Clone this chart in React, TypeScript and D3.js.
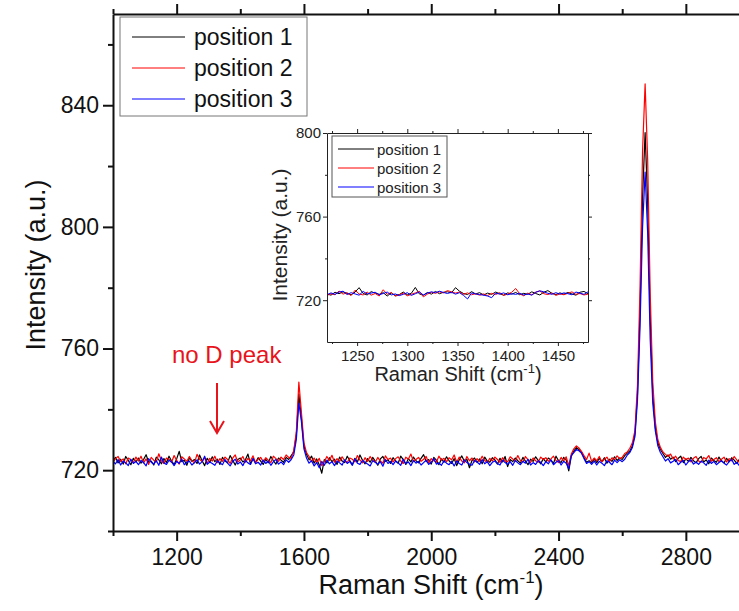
import * as d3 from "d3";
import { useEffect, useRef } from "react";

// Raman shift grid of the main spectrum (cm-1)
const shift = d3.range(1000, 3001, 8);

const position1 = [
  723.1, 724.2, 722.4, 723.6, 722.0, 724.5, 723.2, 721.8, 723.9, 722.7,
  724.0, 722.3, 723.5, 725.1, 722.6, 723.0, 721.7, 724.3, 723.4, 722.1,
  723.8, 722.5, 724.6, 723.0, 721.9, 723.7, 726.2, 722.8, 723.3, 721.6,
  724.1, 722.9, 723.5, 722.2, 725.0, 723.1, 721.5, 723.9, 722.6, 724.4,
  722.8, 723.6, 721.9, 724.2, 723.0, 722.4, 724.8, 723.3, 721.7, 723.5,
  724.0, 722.7, 723.4, 725.3, 722.1, 723.8, 722.5, 724.1, 723.0, 721.9,
  723.6, 722.4, 724.5, 723.1, 722.0, 724.0, 723.3, 722.6, 724.2, 723.5,
  724.8, 726.0, 731.5, 745.0, 737.0, 728.0, 725.2, 723.4, 724.6, 722.3,
  723.7, 721.8, 719.0, 723.5, 722.4, 724.1, 722.8, 723.6, 721.9, 724.3,
  723.0, 722.5, 724.6, 723.2, 721.8, 723.9, 722.7, 725.0, 723.3, 722.1,
  723.8, 722.6, 724.2, 723.0, 721.6, 723.7, 724.5, 722.9, 723.4, 722.2,
  724.1, 723.0, 722.3, 724.6, 723.5, 721.9, 723.8, 722.7, 724.3, 723.1,
  722.4, 723.9, 725.1, 722.8, 723.5, 722.0, 724.2, 723.3, 721.8, 723.7,
  722.6, 724.4, 723.1, 722.2, 723.8, 721.5, 723.4, 724.7, 722.9, 723.6,
  720.8, 723.2, 724.0, 722.5, 723.7, 722.1, 724.3, 723.0, 722.6, 724.1,
  723.4, 722.0, 723.9, 722.7, 724.5, 721.2, 723.5, 722.8, 724.0, 723.1,
  722.3, 724.2, 723.0, 721.8, 723.6, 722.9, 724.4, 723.2, 722.1, 723.8,
  722.7, 724.0, 723.3, 722.2, 724.6, 723.1, 722.5, 724.2, 723.4, 719.8,
  724.6, 726.3, 727.4, 726.8, 726.0, 724.2, 722.6, 723.1, 722.4, 723.7,
  722.5, 723.9, 722.8, 724.1, 722.3, 723.6, 722.9, 724.4, 723.2, 724.0,
  723.5, 724.8, 725.6, 726.3, 728.0, 732.0, 745.0, 772.0, 810.0, 831.0,
  808.0, 770.0, 745.0, 734.0, 729.0, 726.8, 725.5, 724.2, 725.0, 723.6,
  724.3, 722.8, 723.9, 724.6, 722.5, 723.7, 722.9, 724.2, 723.1, 722.4,
  723.8, 724.5, 722.7, 723.4, 722.1, 724.0, 723.2, 722.6, 724.3, 723.0,
  722.4, 723.9, 722.8, 724.1, 723.3, 722.2, 723.6, 724.4, 722.9, 723.5,
  723.2,
];

const position2 = [
  722.6, 723.8, 724.5, 722.9, 723.7, 722.1, 724.0, 723.4, 722.5, 724.3,
  723.0, 724.6, 722.4, 723.7, 721.9, 724.2, 723.3, 722.7, 725.4, 723.1,
  722.2, 724.0, 723.5, 722.6, 724.8, 723.2, 722.0, 724.4, 723.7, 722.9,
  724.5, 723.1, 722.4, 725.2, 723.6, 722.8, 724.1, 722.3, 723.9, 723.0,
  724.6, 722.5, 723.8, 722.9, 724.3, 723.5, 722.2, 724.0, 725.0, 722.7,
  723.4, 724.5, 722.6, 723.9, 723.1, 724.7, 722.4, 723.6, 724.2, 722.8,
  724.1, 723.3, 722.5, 724.6, 723.8, 722.9, 724.3, 723.5, 725.0, 724.2,
  723.9, 726.5, 732.5, 749.0, 739.0, 729.0, 725.8, 724.5, 722.8, 724.0,
  722.4, 723.9, 721.5, 722.8, 724.5, 723.2, 724.9, 722.6, 723.8, 722.9,
  724.4, 723.1, 722.5, 724.0, 723.6, 722.7, 724.8, 723.3, 722.4, 724.1,
  722.9, 724.5, 723.3, 722.6, 724.2, 723.0, 722.3, 724.7, 723.5, 724.0,
  722.7, 723.8, 724.4, 723.0, 722.2, 724.3, 723.6, 725.3, 722.8, 723.5,
  724.2, 722.9, 723.6, 724.5, 722.4, 723.8, 723.1, 722.6, 724.6, 723.3,
  723.9, 722.8, 724.1, 723.4, 725.0, 722.6, 724.3, 723.0, 722.4, 724.5,
  723.1, 724.0, 722.7, 723.8, 722.9, 724.6, 723.2, 722.5, 723.9, 723.0,
  724.3, 723.5, 722.6, 724.1, 723.0, 722.8, 724.4, 723.7, 722.9, 724.8,
  723.2, 722.7, 724.5, 723.4, 722.5, 724.0, 723.1, 722.6, 724.3, 723.5,
  724.1, 722.9, 723.7, 724.6, 723.2, 722.5, 724.2, 723.0, 724.4, 721.5,
  725.3, 727.0, 728.0, 727.3, 726.2, 724.8, 723.5, 725.6, 722.9, 724.0,
  723.1, 724.5, 722.7, 723.6, 724.3, 722.8, 724.1, 723.4, 724.7, 723.8,
  724.2, 725.5, 726.0, 727.2, 729.0, 733.0, 748.0, 780.0, 825.0, 847.0,
  822.0, 778.0, 749.0, 736.0, 730.0, 727.5, 726.0, 725.2, 724.5, 725.3,
  723.7, 724.6, 723.2, 722.8, 724.3, 723.5, 724.0, 722.7, 723.9, 724.5,
  723.0, 722.6, 724.2, 723.7, 724.8, 722.9, 723.5, 724.1, 722.8, 723.6,
  724.3, 722.7, 723.8, 723.1, 724.5, 723.4, 722.6, 724.0, 723.7, 722.9,
  723.8,
];

const position3 = [
  722.8, 722.1, 723.5, 721.7, 723.0, 722.4, 721.5, 723.6, 722.2, 722.9,
  721.8, 723.2, 722.5, 721.4, 723.8, 722.6, 722.0, 723.1, 721.6, 724.3,
  722.4, 721.9, 723.3, 722.7, 721.5, 722.9, 722.2, 723.7, 721.8, 722.6,
  723.0, 721.7, 722.5, 723.4, 722.0, 722.8, 724.6, 721.9, 722.7, 722.2,
  721.6, 723.1, 722.4, 721.8, 723.5, 722.3, 721.4, 722.9, 723.6, 722.0,
  722.7, 721.5, 723.2, 722.4, 721.9, 723.8, 722.1, 722.6, 721.7, 723.3,
  722.2, 723.0, 721.6, 722.8, 723.5, 722.0, 722.7, 721.8, 723.4, 722.6,
  723.5, 725.0, 730.0, 742.0, 736.0, 727.0, 724.0, 722.3, 723.1, 721.4,
  722.5, 720.8, 722.9, 721.6, 723.3, 722.1, 722.8, 721.5, 723.0, 722.4,
  721.7, 723.4, 722.2, 722.9, 721.6, 723.7, 722.3, 721.9, 723.2, 722.5,
  722.0, 721.4, 723.1, 722.6, 721.9, 722.8, 721.3, 723.5, 722.2, 722.9,
  721.8, 723.0, 722.4, 721.6, 723.6, 722.1, 722.7, 721.5, 723.2, 722.3,
  722.9, 721.7, 722.5, 723.3, 721.9, 722.6, 723.8, 722.0, 722.4, 721.6,
  723.1, 722.3, 721.8, 722.9, 721.4, 723.0, 722.2, 721.7, 723.4, 722.5,
  722.0, 721.6, 723.2, 722.7, 721.9, 723.5, 722.1, 722.8, 721.5, 722.6,
  723.0, 722.2, 721.7, 723.3, 722.5, 721.9, 722.8, 721.6, 723.2, 722.4,
  721.8, 722.9, 722.3, 723.6, 721.7, 722.5, 721.9, 723.1, 722.6, 721.5,
  722.8, 722.1, 723.4, 721.8, 722.6, 723.2, 721.7, 722.9, 722.3, 720.5,
  724.8, 725.8, 726.8, 726.4, 725.6, 723.8, 722.2, 722.8, 721.9, 723.0,
  721.7, 722.9, 722.3, 721.5, 723.1, 722.6, 721.8, 723.3, 722.5, 723.4,
  722.8, 723.6, 725.0, 725.8, 727.5, 731.0, 743.0, 767.0, 800.0, 818.0,
  798.0, 763.0, 742.0, 733.0, 728.0, 725.8, 724.4, 723.0, 723.8, 722.4,
  722.9, 723.5, 721.8, 722.6, 723.2, 721.7, 722.8, 723.4, 722.0, 722.7,
  721.9, 723.0, 722.4, 721.6, 723.3, 722.2, 722.9, 721.8, 722.5, 723.1,
  722.3, 721.7, 722.8, 723.5, 721.9, 722.6, 721.5, 723.0, 722.4, 722.1,
  722.6,
];

// inset: zoom on the D band region
const insetShift = d3.range(1220, 1481, 4);

const inset1 = [
  723.0, 722.4, 723.8, 723.1, 724.0, 723.3, 722.6, 723.9, 726.0, 723.2,
  722.5, 724.1, 723.4, 722.8, 723.6, 722.0, 723.5, 722.3, 722.7, 723.9,
  722.6, 723.3, 726.1, 723.0, 722.4, 723.7, 722.9, 724.2, 723.1, 723.8,
  724.0, 723.5, 726.0, 724.3, 723.2, 722.7, 724.1, 723.0, 723.6, 722.5,
  723.4, 722.8, 723.9, 723.1, 722.4, 723.5, 722.9, 723.7, 722.6, 723.3,
  722.8, 724.0, 723.2, 722.5, 723.8, 724.6, 723.3, 722.7, 723.5, 722.9,
  723.7, 723.0, 722.4, 723.8, 724.2, 723.1,
];

const inset2 = [
  722.3, 723.1, 722.6, 724.4, 722.9, 723.6, 722.2, 724.8, 723.0, 722.5,
  723.9, 722.4, 723.2, 722.0, 725.0, 722.8, 723.7, 721.9, 722.6, 723.4,
  722.1, 722.8, 723.5, 724.2, 721.6, 722.9, 723.8, 723.3, 724.0, 723.5,
  724.6, 724.0, 723.4, 723.9, 722.8, 723.5, 722.6, 723.1, 722.4, 723.0,
  722.2, 723.3, 722.7, 723.6, 722.3, 722.9, 723.8, 725.6, 723.0, 722.1,
  723.4, 722.6, 723.9, 724.4, 723.1, 722.7, 723.5, 722.3, 723.0, 722.6,
  723.3, 724.0, 722.8, 723.2, 722.5, 722.9,
];

const inset3 = [
  722.6, 723.5, 722.8, 723.9, 724.3, 722.7, 723.6, 723.0, 722.4, 724.2,
  723.0, 723.4, 723.8, 722.6, 723.2, 723.9, 722.5, 723.0, 722.2, 722.8,
  723.6, 722.3, 723.1, 723.9, 722.5, 723.4, 724.0, 723.6, 724.3, 723.7,
  723.2, 723.8, 722.9, 723.6, 722.3, 720.6, 723.5, 723.0, 722.7, 722.4,
  722.0, 721.2, 723.4, 722.9, 723.5, 722.6, 723.1, 722.8, 723.3, 722.5,
  723.0, 722.4, 723.8, 724.5, 724.0, 723.3, 722.8, 723.6, 722.9, 723.5,
  723.1, 722.6, 723.9, 723.4, 722.8, 724.0,
];

const seriesNames = ["position 1", "position 2", "position 3"];
const colors = ["#000000", "#ff0000", "#0000ff"];

const mainMajorX = [1200, 1600, 2000, 2400, 2800];
const mainMinorX = [1000, 1400, 1800, 2200, 2600, 3000];
const mainMajorY = [720, 760, 800, 840];
const mainMinorY = [700, 740, 780, 820, 860];

const insetMajorX = [1250, 1300, 1350, 1400, 1450];
const insetMinorX = [1225, 1275, 1325, 1375, 1425, 1475];
const insetMajorY = [720, 760, 800];
const insetMinorY = [740, 780];

const font = '"Liberation Sans", Arial, Helvetica, sans-serif';

const App = () => {
  const ref = useRef<SVGSVGElement>(null);

  useEffect(() => {
    const svg = d3.select(ref.current);
    svg.selectAll("*").remove();

    const x = d3.scaleLinear().domain([1000, 3000]).range([113, 749.5]);
    const y = d3.scaleLinear().domain([700, 870]).range([531, 14]);

    const styleAxis = (g: any, size: number, sw: number, color: string) => {
      g.attr("font-size", size).attr("font-family", font);
      g.selectAll(".domain").attr("stroke-width", sw).attr("stroke", color);
      g.selectAll(".tick line").attr("stroke-width", sw).attr("stroke", color);
      g.selectAll(".tick text").attr("fill", color);
    };

    // main spectra
    svg.append("clipPath").attr("id", "mainClip")
      .append("rect").attr("x", 113).attr("y", 14).attr("width", 640).attr("height", 517);

    const line = d3.line<number>()
      .x((_, i) => x(shift[i]))
      .y(d => y(d));

    const mainPlot = svg.append("g").attr("clip-path", "url(#mainClip)");
    [position1, position2, position3].forEach((s, k) => {
      mainPlot.append("path")
        .attr("d", line(s))
        .attr("fill", "none")
        .attr("stroke", colors[k])
        .attr("stroke-width", 1.2)
        .attr("stroke-linejoin", "round");
    });

    // main axes
    const axisColor = "#111";
    svg.append("g").attr("transform", "translate(0,531)")
      .call(d3.axisBottom(x).tickValues(mainMajorX).tickSize(10).tickSizeOuter(0).tickPadding(8).tickFormat(d3.format("d")))
      .call(g => styleAxis(g, 23, 2, axisColor));
    svg.append("g").attr("transform", "translate(0,531)")
      .call(d3.axisBottom(x).tickValues(mainMinorX).tickSize(5).tickFormat(() => ""))
      .call(g => { g.select(".domain").remove(); styleAxis(g, 23, 2, axisColor); });
    svg.append("g").attr("transform", "translate(0,14)")
      .call(d3.axisTop(x).tickValues(mainMajorX).tickSize(10).tickSizeOuter(0).tickFormat(() => ""))
      .call(g => styleAxis(g, 23, 2, axisColor));
    svg.append("g").attr("transform", "translate(0,14)")
      .call(d3.axisTop(x).tickValues(mainMinorX).tickSize(5).tickFormat(() => ""))
      .call(g => { g.select(".domain").remove(); styleAxis(g, 23, 2, axisColor); });
    svg.append("g").attr("transform", "translate(113,0)")
      .call(d3.axisLeft(y).tickValues(mainMajorY).tickSize(10).tickSizeOuter(0).tickPadding(4).tickFormat(d3.format("d")))
      .call(g => styleAxis(g, 23, 2, axisColor));
    svg.append("g").attr("transform", "translate(113,0)")
      .call(d3.axisLeft(y).tickValues(mainMinorY).tickSize(5).tickFormat(() => ""))
      .call(g => { g.select(".domain").remove(); styleAxis(g, 23, 2, axisColor); });

    // axis titles
    const xt = svg.append("text")
      .attr("x", 431).attr("y", 594)
      .attr("text-anchor", "middle")
      .attr("font-family", font).attr("font-size", 27).attr("fill", axisColor);
    xt.append("tspan").text("Raman Shift (cm");
    xt.append("tspan").attr("dy", -11).attr("font-size", 17).text("-1");
    xt.append("tspan").attr("dy", 11).text(")");

    svg.append("text")
      .attr("transform", "translate(36,265) rotate(-90)")
      .attr("text-anchor", "middle").attr("dominant-baseline", "central")
      .attr("font-family", font).attr("font-size", 27).attr("fill", axisColor)
      .text("Intensity (a.u.)");

    // main legend
    const legend = svg.append("g");
    legend.append("rect")
      .attr("x", 120).attr("y", 17).attr("width", 187).attr("height", 99)
      .attr("fill", "#fff").attr("stroke", "#777").attr("stroke-width", 1);
    seriesNames.forEach((name, k) => {
      const cy = 37 + k * 31;
      legend.append("line")
        .attr("x1", 132).attr("x2", 185).attr("y1", cy).attr("y2", cy)
        .attr("stroke", colors[k]).attr("stroke-width", 1);
      legend.append("text")
        .attr("x", 194).attr("y", cy)
        .attr("dominant-baseline", "central")
        .attr("font-family", font).attr("font-size", 23).attr("fill", axisColor)
        .text(name);
    });

    // annotation
    svg.append("text")
      .attr("x", 172).attr("y", 363)
      .attr("font-family", font).attr("font-size", 24).attr("fill", "#e8141c")
      .text("no D peak");
    svg.append("line")
      .attr("x1", 217).attr("x2", 217).attr("y1", 383).attr("y2", 432)
      .attr("stroke", "#e8141c").attr("stroke-width", 2);
    svg.append("polyline")
      .attr("points", "210,421 217,433 224,421")
      .attr("fill", "none").attr("stroke", "#e8141c").attr("stroke-width", 2);

    // inset
    const ix = d3.scaleLinear().domain([1220, 1480]).range([327, 588]);
    const iy = d3.scaleLinear().domain([700, 800]).range([342, 133]);
    const insetColor = "#222";

    svg.append("rect")
      .attr("x", 327).attr("y", 133).attr("width", 261).attr("height", 209)
      .attr("fill", "#fff");

    svg.append("clipPath").attr("id", "insetClip")
      .append("rect").attr("x", 327).attr("y", 133).attr("width", 261).attr("height", 209);

    const insetLine = d3.line<number>()
      .x((_, i) => ix(insetShift[i]))
      .y(d => iy(d));

    const insetPlot = svg.append("g").attr("clip-path", "url(#insetClip)");
    [inset1, inset2, inset3].forEach((s, k) => {
      insetPlot.append("path")
        .attr("d", insetLine(s))
        .attr("fill", "none")
        .attr("stroke", colors[k])
        .attr("stroke-width", 1);
    });

    svg.append("g").attr("transform", "translate(0,342)")
      .call(d3.axisBottom(ix).tickValues(insetMajorX).tickSize(4).tickSizeOuter(0).tickPadding(4).tickFormat(d3.format("d")))
      .call(g => styleAxis(g, 15, 1, insetColor));
    svg.append("g").attr("transform", "translate(0,342)")
      .call(d3.axisBottom(ix).tickValues(insetMinorX).tickSize(2).tickFormat(() => ""))
      .call(g => { g.select(".domain").remove(); styleAxis(g, 15, 1, insetColor); });
    svg.append("g").attr("transform", "translate(0,133)")
      .call(d3.axisTop(ix).tickValues(insetMajorX).tickSize(4).tickSizeOuter(0).tickFormat(() => ""))
      .call(g => styleAxis(g, 15, 1, insetColor));
    svg.append("g").attr("transform", "translate(0,133)")
      .call(d3.axisTop(ix).tickValues(insetMinorX).tickSize(2).tickFormat(() => ""))
      .call(g => { g.select(".domain").remove(); styleAxis(g, 15, 1, insetColor); });
    svg.append("g").attr("transform", "translate(327,0)")
      .call(d3.axisLeft(iy).tickValues(insetMajorY).tickSize(4).tickSizeOuter(0).tickPadding(2).tickFormat(d3.format("d")))
      .call(g => styleAxis(g, 15, 1, insetColor));
    svg.append("g").attr("transform", "translate(327,0)")
      .call(d3.axisLeft(iy).tickValues(insetMinorY).tickSize(2).tickFormat(() => ""))
      .call(g => { g.select(".domain").remove(); styleAxis(g, 15, 1, insetColor); });
    svg.append("g").attr("transform", "translate(588,0)")
      .call(d3.axisRight(iy).tickValues(insetMajorY).tickSize(4).tickSizeOuter(0).tickFormat(() => ""))
      .call(g => styleAxis(g, 15, 1, insetColor));
    svg.append("g").attr("transform", "translate(588,0)")
      .call(d3.axisRight(iy).tickValues(insetMinorY).tickSize(2).tickFormat(() => ""))
      .call(g => { g.select(".domain").remove(); styleAxis(g, 15, 1, insetColor); });

    const ixt = svg.append("text")
      .attr("x", 458).attr("y", 381)
      .attr("text-anchor", "middle")
      .attr("font-family", font).attr("font-size", 20).attr("fill", insetColor);
    ixt.append("tspan").text("Raman Shift (cm");
    ixt.append("tspan").attr("dy", -8).attr("font-size", 13).text("-1");
    ixt.append("tspan").attr("dy", 8).text(")");

    svg.append("text")
      .attr("transform", "translate(279,235) rotate(-90)")
      .attr("text-anchor", "middle").attr("dominant-baseline", "central")
      .attr("font-family", font).attr("font-size", 21).attr("fill", insetColor)
      .text("Intensity (a.u.)");

    // inset legend
    const il = svg.append("g");
    il.append("rect")
      .attr("x", 332).attr("y", 136).attr("width", 115).attr("height", 61)
      .attr("fill", "#fff").attr("stroke", "#555").attr("stroke-width", 1);
    seriesNames.forEach((name, k) => {
      const cy = 149 + k * 19;
      il.append("line")
        .attr("x1", 338).attr("x2", 374).attr("y1", cy).attr("y2", cy)
        .attr("stroke", colors[k]).attr("stroke-width", 1);
      il.append("text")
        .attr("x", 377).attr("y", cy)
        .attr("dominant-baseline", "central")
        .attr("font-family", font).attr("font-size", 15).attr("fill", insetColor)
        .text(name);
    });
  }, []);

  return (
    <svg
      ref={ref}
      width={739}
      height={611}
      style={{ position: "absolute", left: 0, top: 0, background: "#fff" }}
    />
  );
};

export default App;
